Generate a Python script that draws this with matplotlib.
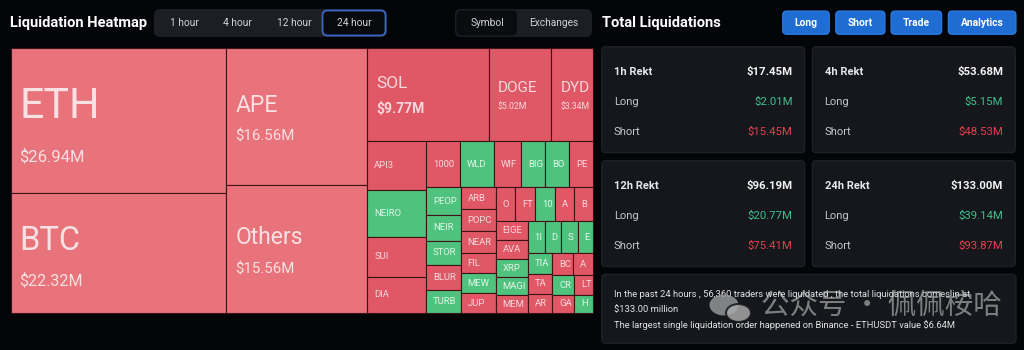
import matplotlib
matplotlib.use("Agg")
import matplotlib.pyplot as plt
from matplotlib.patches import Rectangle, FancyBboxPatch, Ellipse

# heatmap tiles, sorted by liquidation value (M USD)
symbols = ["ETH", "BTC", "APE", "Others", "SOL", "DOGE", "DYDX",
           "API3", "NEIRO", "SUI", "DIA",
           "1000PEPE", "WLD", "WIF", "BIGTIME", "BONK", "PEPE",
           "PEOPLE", "NEIROETH", "STORJ", "BLUR", "TURBO",
           "ARB", "POPCAT", "NEAR", "FIL", "MEW", "JUP",
           "ORDI", "FTM", "1000SATS", "APT", "BNB",
           "EIGEN", "AVAX", "XRP", "MAGIC", "MEME",
           "1INCH", "DOT", "SUSHI", "ENS",
           "TIA", "TAO", "ARPA",
           "BCH", "ADA", "CRV",
           "GALA", "LTC", "HBAR"]
values = [26.94, 22.32, 16.56, 15.56, 9.77, 5.02, 3.34,
          2.45, 2.40, 2.03, 1.81,
          1.36, 1.34, 1.06, 0.96, 0.95, 0.95,
          0.83, 0.77, 0.74, 0.73, 0.69,
          0.67, 0.66, 0.65, 0.62, 0.61, 0.58,
          0.58, 0.58, 0.57, 0.57, 0.55,
          0.53, 0.52, 0.51, 0.50, 0.48,
          0.47, 0.46, 0.46, 0.43,
          0.43, 0.43, 0.40,
          0.39, 0.38, 0.36,
          0.33, 0.32, 0.30]
# S = mostly shorts liquidated (red), L = mostly longs (green)
sides = ["S", "S", "S", "S", "S", "S", "S",
         "S", "L", "S", "S",
         "S", "L", "S", "L", "L", "S",
         "L", "L", "L", "S", "L",
         "S", "S", "S", "S", "L", "S",
         "S", "S", "L", "S", "S",
         "S", "S", "L", "L", "S",
         "L", "L", "L", "L",
         "L", "S", "S",
         "S", "S", "L",
         "S", "S", "L"]

tabs = ["1 hour", "4 hour", "12 hour", "24 hour"]
views = ["Symbol", "Exchanges"]
buttons = ["Long", "Short", "Trade", "Analytics"]

periods = ["1h", "4h", "12h", "24h"]
rekt_total = [17.45, 53.68, 96.19, 133.00]
rekt_long = [2.01, 5.15, 20.77, 39.14]
rekt_short = [15.45, 48.53, 75.41, 93.87]
traders = 56360
largest = ("Binance", "ETHUSDT", 6.64)

BG = "#040508"
PANEL = "#15171d"
TAB_BG = "#1b1e25"
RED_LIGHT = "#e8737b"
RED = "#e05866"
GREEN = "#4fc27e"
BLUE = "#1f6dd3"

# label styles for the big tiles
name_sizes = [31, 23.5, 16.5, 16.5, 12.5, 11, 11]
value_sizes = [12, 11.5, 10.8, 10.8, 10, 6.2, 6.2]
name_pos = [0.40, 0.40, 0.42, 0.41, 0.38, 0.43, 0.43]
value_pos = [0.75, 0.73, 0.65, 0.66, 0.65, 0.63, 0.63]

plt.rcParams["font.family"] = ["Roboto", "DejaVu Sans"]


def worst(row, side, ratio):
    s = sum(row)
    f = side * side * ratio
    return max(f * max(row) / (s * s), s * s / (f * min(row)))


def squarify(vals, x, y, w, h, ratio=(1 + 5 ** 0.5) / 2):
    scale = w * h / sum(vals)
    areas = [v * scale for v in vals]
    rects = []
    i = 0
    while i < len(areas):
        side = min(w, h)
        row = [areas[i]]
        best = worst(row, side, ratio)
        j = i + 1
        while j < len(areas):
            score = worst(row + [areas[j]], side, ratio)
            if score > best:
                break
            row.append(areas[j])
            best = score
            j += 1
        thick = sum(row) / side
        pos = 0
        for a in row:
            length = a / thick
            if w >= h:
                rects.append((x, y + pos, thick, length))
            else:
                rects.append((x + pos, y, length, thick))
            pos += length
        if w >= h:
            x += thick
            w -= thick
        else:
            y += thick
            h -= thick
        i = j
    return rects


def rbox(ax, x, y, w, h, fc, ec="none", lw=0.0, r=4):
    ax.add_patch(FancyBboxPatch((x, y), w, h, boxstyle=f"round,pad=0,rounding_size={r}",
                                facecolor=fc, edgecolor=ec, linewidth=lw))


def fit_text(t, avail, renderer):
    # shorten the label until it fits inside its tile
    s = t.get_text()
    while len(s) > 1 and t.get_window_extent(renderer).width > avail:
        s = s[:-1]
        t.set_text(s)


def draw_heatmap(fig, ax):
    renderer = fig.canvas.get_renderer()
    rects = squarify(values, 10.5, 48.3, 582.5, 264.4)
    for k, (name, val, side, (x, y, w, h)) in enumerate(zip(symbols, values, sides, rects)):
        if side == "L":
            fc, tc = GREEN, "#e2f6e8"
        elif val >= 10:
            fc, tc = RED_LIGHT, "#f9e1e3"
        else:
            fc, tc = RED, "#f6d8dc"
        tile = Rectangle((x, y), w, h, facecolor=fc, edgecolor="#3d1318", linewidth=0.8)
        ax.add_patch(tile)
        texts = []
        if k < len(name_sizes):
            texts.append(ax.text(x + 9, y + h * name_pos[k], name, fontsize=name_sizes[k],
                                 color=tc, va="center", ha="left"))
            texts.append(ax.text(x + 9, y + h * value_pos[k], f"${val:.2f}M", fontsize=value_sizes[k],
                                 color=tc, va="center", ha="left",
                                 fontweight="bold" if k == 4 else "normal"))
            pad = 9
        else:
            texts.append(ax.text(x + 7, y + h / 2, name, fontsize=6.8, color=tc,
                                 va="center", ha="left"))
            pad = 7
        for t in texts:
            fit_text(t, w - pad - 1, renderer)
            t.set_clip_on(True)
            t.set_clip_path(tile)


def draw_header(ax):
    ax.text(9.5, 23, "Liquidation Heatmap", fontsize=10.5, fontweight="bold",
            color="white", va="center")
    rbox(ax, 154, 9, 233, 28, TAB_BG, r=6)
    rbox(ax, 322.5, 10.5, 63, 25, "#07090d", ec="#3a68c4", lw=1.3, r=5)
    for label, cx in zip(tabs, [184.5, 237.7, 294.5, 354]):
        ax.text(cx, 23.3, label, fontsize=7.4, color="#d0d3d9", ha="center", va="center")

    rbox(ax, 455, 9, 137, 28, TAB_BG, r=6)
    rbox(ax, 456.5, 10.5, 60.5, 25, "#0a0c10", r=5)
    for label, cx in zip(views, [487.5, 554]):
        ax.text(cx, 23.3, label, fontsize=7.3, color="#d0d3d9", ha="center", va="center")

    ax.text(602, 23, "Total Liquidations", fontsize=10.5, fontweight="bold",
            color="white", va="center")
    spans = [(782.7, 829.3), (835.7, 885), (891, 941.7), (948.3, 1016)]
    for label, (x0, x1) in zip(buttons, spans):
        rbox(ax, x0, 11, x1 - x0, 23.3, BLUE, ec="#2c7de3", lw=0.8, r=4)
        ax.text((x0 + x1) / 2, 22.8, label, fontsize=7.4, fontweight="bold",
                color="white", ha="center", va="center")


def draw_cards(ax):
    for i, p in enumerate(periods):
        cx = 601.7 + (i % 2) * 210.6
        cy = 46.7 + (i // 2) * 114
        rbox(ax, cx, cy, 203, 106, PANEL, ec="#20232a", lw=0.8, r=4)
        right = cx + 191
        ax.text(cx + 12.3, cy + 25, f"{p} Rekt", fontsize=8, fontweight="bold",
                color="#e6e7ea", va="center")
        ax.text(right, cy + 25, f"${rekt_total[i]:.2f}M", fontsize=8.2, fontweight="bold",
                color="#f2f2f2", va="center", ha="right")
        ax.text(cx + 12.3, cy + 55.6, "Long", fontsize=8, color="#c4c6cc", va="center")
        ax.text(right, cy + 55.6, f"${rekt_long[i]:.2f}M", fontsize=8.2,
                color="#3dbf8a", va="center", ha="right")
        ax.text(cx + 12.3, cy + 85, "Short", fontsize=8, color="#c4c6cc", va="center")
        ax.text(right, cy + 85, f"${rekt_short[i]:.2f}M", fontsize=8.2,
                color="#e2404e", va="center", ha="right")

    rbox(ax, 601.7, 274.3, 414.3, 69, PANEL, ec="#20232a", lw=0.8, r=4)
    lines = [f"In the past 24 hours , {traders:,} traders were liquidated , "
             f"the total liquidations comes in at",
             f"${rekt_total[3]:.2f} million",
             f"The largest single liquidation order happened on {largest[0]} - "
             f"{largest[1]} value ${largest[2]:.2f}M"]
    for line, ly in zip(lines, [294.3, 309.3, 325]):
        ax.text(613.5, ly, line, fontsize=6.75, color="#e2e2e4", va="center")


def draw_watermark(ax):
    ax.add_patch(Ellipse((724, 305), 29, 21, facecolor="#9c9c9c", edgecolor="none",
                         alpha=0.8, zorder=5))
    ax.add_patch(Ellipse((738.5, 313), 25, 18, facecolor="#a8a8a8", edgecolor=PANEL,
                         linewidth=1.5, alpha=0.85, zorder=6))
    ax.text(761, 306, "公众号 · 佩佩桉哈", fontsize=20.5, color="#c4c4c4", alpha=0.6,
            va="center", ha="left", zorder=7,
            family=["Noto Sans CJK SC", "DejaVu Sans"])


fig = plt.figure(figsize=(10.24, 3.5), dpi=100)
fig.patch.set_facecolor(BG)
ax = fig.add_axes([0, 0, 1, 1])
ax.set_xlim(0, 1024)
ax.set_ylim(350, 0)
ax.axis("off")

draw_header(ax)
draw_heatmap(fig, ax)
draw_cards(ax)
draw_watermark(ax)

fig.savefig("out.png", dpi=100, facecolor=BG)
